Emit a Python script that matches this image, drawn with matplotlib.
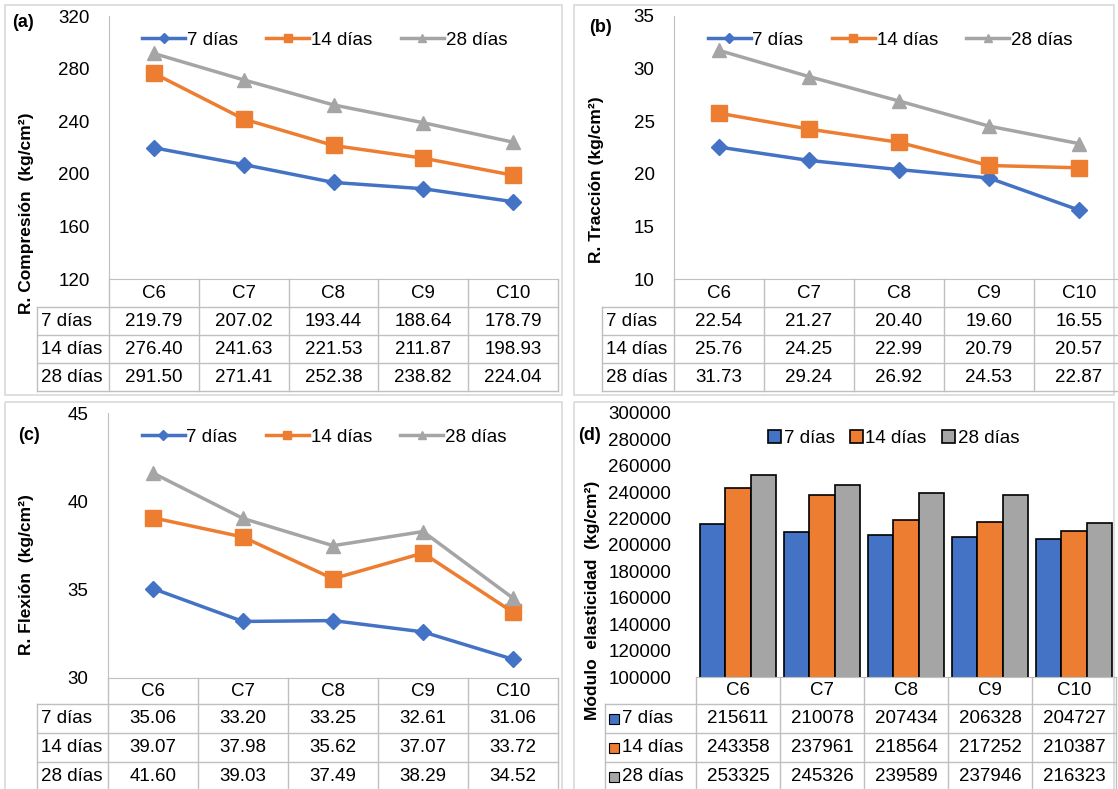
import matplotlib.pyplot as plt
from matplotlib.patches import Rectangle

plt.rcParams['font.family'] = ['Liberation Sans', 'DejaVu Sans']

# data
mixes = ['C6', 'C7', 'C8', 'C9', 'C10']
ages = ['7 días', '14 días', '28 días']

comp_7 = [219.79, 207.02, 193.44, 188.64, 178.79]
comp_14 = [276.40, 241.63, 221.53, 211.87, 198.93]
comp_28 = [291.50, 271.41, 252.38, 238.82, 224.04]

trac_7 = [22.54, 21.27, 20.40, 19.60, 16.55]
trac_14 = [25.76, 24.25, 22.99, 20.79, 20.57]
trac_28 = [31.73, 29.24, 26.92, 24.53, 22.87]

flex_7 = [35.06, 33.20, 33.25, 32.61, 31.06]
flex_14 = [39.07, 37.98, 35.62, 37.07, 33.72]
flex_28 = [41.60, 39.03, 37.49, 38.29, 34.52]

mod_7 = [215611, 210078, 207434, 206328, 204727]
mod_14 = [243358, 237961, 218564, 217252, 210387]
mod_28 = [253325, 245326, 239589, 237946, 216323]

colors = ['#4472C4', '#ED7D31', '#A5A5A5']
markers = ['D', 's', '^']
msizes = [8.5, 11, 10.5]
grid_c = '#bfbfbf'
FS = 13.5

W, H = 1118, 789
fig = plt.figure(figsize=(W / 100, H / 100), dpi=100)

# overlay in pixel coordinates for boxes and tables
ov = fig.add_axes([0, 0, 1, 1])
ov.set_xlim(0, W)
ov.set_ylim(H, 0)
ov.axis('off')


def fbox(x0, y0, x1, y1):
    return [x0 / W, 1 - y1 / H, (x1 - x0) / W, (y1 - y0) / H]


def panel(tag, tag_xy, plot_box, label_left, rows, series, fmt, ylim, step,
          ylabel, ylabel_xy, outer, kind='line'):
    left, top, right, bottom = plot_box
    ov.add_patch(Rectangle((outer[0], outer[1]), outer[2] - outer[0], outer[3] - outer[1],
                           fill=False, ec='#d9d9d9', lw=1.2))

    ax = fig.add_axes(fbox(left, top, right, bottom))
    ax.set_facecolor('none')
    x = list(range(len(mixes)))
    if kind == 'line':
        for vals, c, m, ms, lab in zip(series, colors, markers, msizes, ages):
            ax.plot(x, vals, color=c, lw=2.5, marker=m, ms=ms, label=lab)
        ax.legend(loc='upper center', bbox_to_anchor=(0.48, 1.005), ncol=3,
                  frameon=False, fontsize=FS, handlelength=2.3, handletextpad=0.1,
                  columnspacing=1.5, markerscale=0.55)
    else:
        w = 0.3
        for i, (vals, c, lab) in enumerate(zip(series, colors, ages)):
            ax.bar([k + (i - 1) * w for k in x], vals, width=w, color=c,
                   edgecolor='black', lw=1.2, label=lab)
        ax.legend(loc='upper center', bbox_to_anchor=(0.47, 1.0), ncol=3,
                  frameon=False, fontsize=FS, handlelength=0.7, handleheight=0.7,
                  handletextpad=0.15, columnspacing=0.8)
    ax.set_xlim(-0.5, len(mixes) - 0.5)
    ax.set_ylim(*ylim)
    ax.set_yticks(list(range(ylim[0], ylim[1] + 1, step)))
    ax.set_xticks([])
    ax.tick_params(axis='y', length=0, labelsize=FS, pad=18 if kind == 'bar' else 14)
    for s in ['top', 'right']:
        ax.spines[s].set_visible(False)
    ax.spines['left'].set_color(grid_c if kind == 'line' else 'none')
    ax.spines['bottom'].set_color(grid_c)

    ov.text(tag_xy[0], tag_xy[1], tag, fontsize=13, fontweight='bold', ha='left', va='center')
    ov.text(ylabel_xy[0], ylabel_xy[1], ylabel, fontsize=12.5, fontweight='bold',
            rotation=90, ha='center', va='center')

    # data table under the plot
    n = len(mixes)
    cw = (right - left) / n
    edges = [left + i * cw for i in range(n + 1)]
    for xe in edges:
        ov.plot([xe, xe], [rows[0], rows[-1]], color=grid_c, lw=1)
    ov.plot([label_left, label_left], [rows[1], rows[-1]], color=grid_c, lw=1)
    for r in rows[1:]:
        ov.plot([label_left, right], [r, r], color=grid_c, lw=1)
    for i, m in enumerate(mixes):
        ov.text((edges[i] + edges[i + 1]) / 2, (rows[0] + rows[1]) / 2, m,
                fontsize=FS, ha='center', va='center')
    for j, (vals, lab, c) in enumerate(zip(series, ages, colors)):
        yc = (rows[j + 1] + rows[j + 2]) / 2
        tx = label_left + 4
        if kind == 'bar':
            ov.add_patch(Rectangle((tx, yc - 5), 10, 10, fc=c, ec='black', lw=0.8))
            tx += 13
        ov.text(tx, yc, lab, fontsize=FS, ha='left', va='center')
        for i, v in enumerate(vals):
            ov.text((edges[i] + edges[i + 1]) / 2, yc, fmt.format(v),
                    fontsize=FS, ha='center', va='center')


panel('(a)', (12, 22), (109, 16, 558, 279), 37, [279, 307, 335, 363, 391],
      [comp_7, comp_14, comp_28], '{:.2f}', (120, 320), 40,
      'R. Compresión  (kg/cm²)', (27, 213), (5, 5, 562, 395))
panel('(b)', (589, 27), (674, 16, 1124, 279), 602, [279, 307, 335, 363, 391],
      [trac_7, trac_14, trac_28], '{:.2f}', (10, 35), 5,
      'R. Tracción (kg/cm²)', (596, 180), (574, 5, 1114, 395))
panel('(c)', (18, 435), (108, 413, 558, 678), 37, [678, 704, 733, 762, 791],
      [flex_7, flex_14, flex_28], '{:.2f}', (30, 45), 5,
      'R. Flexión  (kg/cm²)', (27, 575), (5, 402, 562, 792))
panel('(d)', (578, 435), (696, 413, 1116, 677), 605, [677, 704, 733, 762, 791],
      [mod_7, mod_14, mod_28], '{:d}', (100000, 300000), 20000,
      'Módulo  elasticidad  (kg/cm²)', (592, 600), (574, 402, 1114, 792), kind='bar')

fig.savefig('out.png', dpi=100)
